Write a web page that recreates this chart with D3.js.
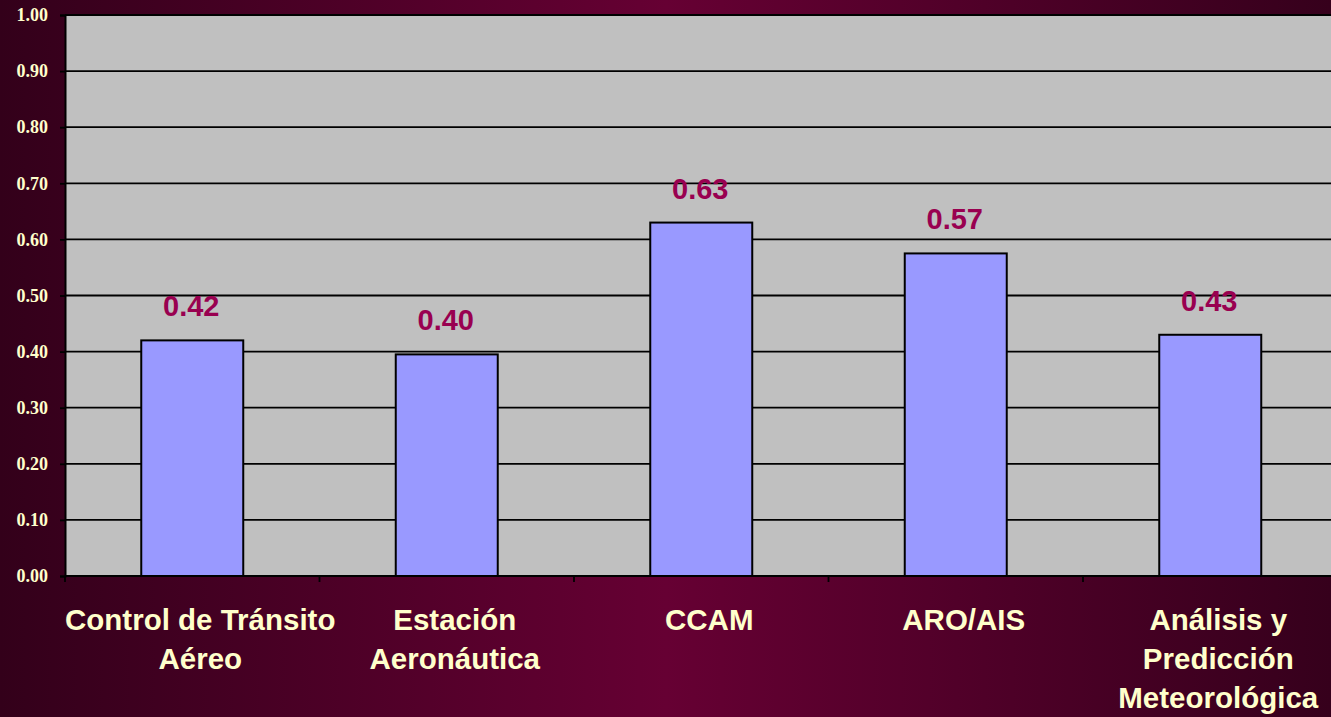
<!DOCTYPE html>
<html><head><meta charset="utf-8">
<script src="https://cdn.jsdelivr.net/npm/d3@7/dist/d3.min.js"></script>
<style>html,body{margin:0;padding:0;overflow:hidden;background:#33001a}</style>
</head><body>
<script>
const categories = [["Control de Tránsito","Aéreo"],["Estación","Aeronáutica"],["CCAM"],["ARO/AIS"],["Análisis y","Predicción","Meteorológica"]];
const values = [0.42, 0.395, 0.63, 0.575, 0.43];
const valueLabels = ["0.42","0.40","0.63","0.57","0.43"];
const yTicks = [0,0.1,0.2,0.3,0.4,0.5,0.6,0.7,0.8,0.9,1.0];

(function(){
const W = 1331, H = 717;
const svg = d3.select("body").append("svg").attr("width",W).attr("height",H);
const defs = svg.append("defs");
const g1 = defs.append("linearGradient").attr("id","bg").attr("x1","0%").attr("x2","100%").attr("y1","0%").attr("y2","0%");
g1.append("stop").attr("offset","0%").attr("stop-color","#33001a");
g1.append("stop").attr("offset","50%").attr("stop-color","#660033");
g1.append("stop").attr("offset","100%").attr("stop-color","#36001c");
svg.append("rect").attr("width",W).attr("height",H).attr("fill","url(#bg)");

const pl = 65, pt = 15, pb = 576, pr = 65 + 5*254.5;
const x = d3.scaleBand().domain(d3.range(values.length)).range([pl,pr]).paddingInner(0).paddingOuter(0);
const y = d3.scaleLinear().domain([0,1]).range([pb,pt]);

svg.append("rect").attr("x",pl).attr("y",pt).attr("width",pr-pl).attr("height",pb-pt).attr("fill","#c0c0c0");
svg.append("g").selectAll("line").data(yTicks.slice(1)).join("line")
  .attr("x1",pl).attr("x2",pr).attr("y1",d=>y(d)).attr("y2",d=>y(d))
  .attr("stroke","#000").attr("stroke-width",1.8);

const bw = 102;
svg.append("g").selectAll("rect").data(values).join("rect")
  .attr("x",(d,i)=>x(i)+x.bandwidth()/2-bw/2).attr("width",bw)
  .attr("y",d=>y(d)).attr("height",d=>pb-y(d))
  .attr("fill","#9999ff").attr("stroke","#000").attr("stroke-width",2);

svg.append("g").selectAll("text").data(values).join("text")
  .attr("x",(d,i)=>x(i)+x.bandwidth()/2-1).attr("y",d=>y(d)-24)
  .attr("text-anchor","middle").attr("font-family","Liberation Sans, Arial, sans-serif")
  .attr("font-weight","bold").attr("font-size",29).attr("fill","#990050")
  .text((d,i)=>valueLabels[i]);

const yAxis = d3.axisLeft(y).tickValues(yTicks).tickFormat(d3.format(".2f")).tickSize(5).tickPadding(12);
const ya = svg.append("g").attr("transform",`translate(${pl},0)`).call(yAxis);
ya.select(".domain").attr("stroke","#000").attr("stroke-width",2);
ya.selectAll(".tick line").attr("stroke","#000").attr("stroke-width",1.8);
ya.selectAll(".tick text").attr("fill","#ffffcc").attr("font-family","Liberation Serif, Times New Roman, serif")
  .attr("font-weight","bold").attr("font-size",18);

const xa = svg.append("g").attr("transform",`translate(0,${pb})`);
xa.append("line").attr("x1",pl).attr("x2",pr).attr("stroke","#000").attr("stroke-width",2);
xa.selectAll("line.tk").data(d3.range(values.length)).join("line").attr("class","tk")
  .attr("x1",i=>x(i)).attr("x2",i=>x(i)).attr("y1",0).attr("y2",6).attr("stroke","#000").attr("stroke-width",1.8);
const lab = xa.selectAll("text").data(categories).join("text")
  .attr("text-anchor","middle").attr("font-family","Liberation Sans, Arial, sans-serif")
  .attr("font-weight","bold").attr("font-size",29.5).attr("fill","#ffffcc")
  .attr("transform",(d,i)=>`translate(${x(i)+x.bandwidth()/2+8},0)`);
lab.selectAll("tspan").data(d=>d).join("tspan").attr("x",0).attr("y",(d,j)=>54+j*39).text(d=>d);
})();
</script>
</body></html>
